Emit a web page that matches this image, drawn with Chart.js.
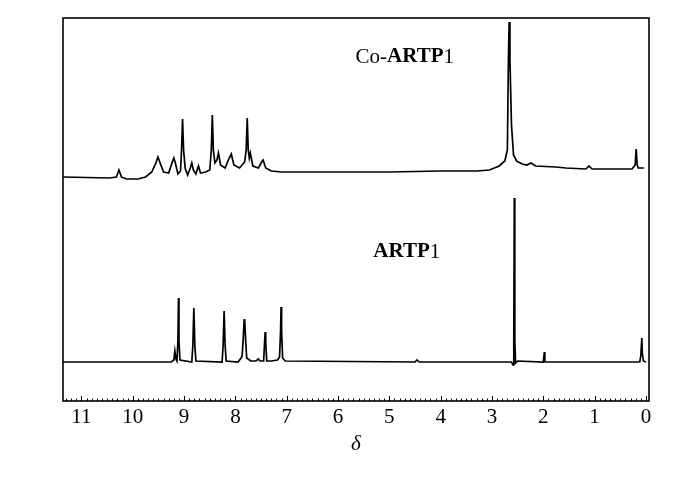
<!DOCTYPE html>
<html>
<head>
<meta charset="utf-8">
<script src="https://cdn.jsdelivr.net/npm/chart.js@4/dist/chart.umd.min.js"></script>
<style>
  html, body { margin: 0; padding: 0; background: #fff; }
  #wrap { width: 700px; height: 481px; }
</style>
</head>
<body>
<div id="wrap"><canvas id="c" width="700" height="481"></canvas></div>
<script>
// Co-ARTP1 spectrum (chemical shift δ, relative intensity)
const coShift = [11.36,10.45,10.32,10.27,10.22,10.12,9.90,9.75,9.63,9.55,9.51,9.46,9.40,9.30,9.23,9.20,9.17,9.12,9.07,9.05,9.03,9.01,8.98,8.93,8.88,8.85,8.82,8.77,8.72,8.68,8.58,8.50,8.47,8.45,8.43,8.40,8.36,8.33,8.29,8.20,8.13,8.08,8.03,7.92,7.82,7.79,7.77,7.75,7.73,7.71,7.66,7.55,7.49,7.46,7.41,7.30,7.10,6.00,5.00,4.00,3.30,3.05,2.86,2.75,2.70,2.68,2.665,2.65,2.62,2.58,2.52,2.41,2.32,2.24,2.15,1.76,1.56,1.17,1.11,1.05,0.27,0.21,0.19,0.17,0.15,0.04];
const coIntensity = [224,223,224,231,224,222,222,224,229,238,244,237,229,228,239,243,238,227,230,251,282,251,233,226,233,238,231,227,235,228,229,231,251,286,251,238,241,248,236,233,242,247,236,233,239,251,283,251,243,248,235,233,239,241,233,230,229,229,229,230,230,231,235,240,251,341,379,341,276,246,240,237,236,238,235,234,233,232,235,232,232,236,252,236,233,233];

// ARTP1 spectrum
const artpShift = [11.36,9.25,9.20,9.18,9.16,9.14,9.12,9.11,9.10,9.08,8.85,8.83,8.81,8.79,8.77,8.26,8.24,8.22,8.20,8.18,7.95,7.89,7.87,7.85,7.83,7.82,7.80,7.78,7.70,7.60,7.55,7.52,7.45,7.43,7.42,7.41,7.39,7.30,7.18,7.14,7.12,7.11,7.10,7.08,7.03,4.50,4.46,4.42,2.62,2.59,2.575,2.565,2.555,2.54,2.50,2.00,1.98,1.97,0.12,0.10,0.08,0.07,0.05,0.00];
const artpIntensity = [39,39,41,50,42,40,60,103,60,41,39,55,93,55,40,39,55,90,55,40,39,43,45,60,81,82,60,43,40,40,42,40,40,60,69,60,40,40,41,44,70,94,70,43,40,39,41,39,39,36,60,203,60,38,40,39,49,39,39,45,63,48,40,39];

// axis ticks and labels
const xTicks = [0,1,2,3,4,5,6,7,8,9,10,11];
const xTitle = 'δ';
const seriesLabels = [
  { plain: 'Co-', bold: 'ARTP', tail: '1', x: 4.70, y: 344 },
  { plain: '', bold: 'ARTP', tail: '1', x: 4.66, y: 149 }
];

const toPts = (xs, ys) => xs.map((x, i) => ({ x: x, y: ys[i] }));
const FONT = "'Liberation Serif', 'Times New Roman', serif";

const framePlugin = {
  id: 'frame',
  afterDraw(chart) {
    const { ctx, chartArea: a, scales } = chart;
    const xs = scales.x;
    ctx.save();
    ctx.strokeStyle = '#000';
    ctx.lineWidth = 1.6;
    ctx.strokeRect(a.left, a.top, a.right - a.left, a.bottom - a.top);
    // inward ticks on the bottom axis
    ctx.lineWidth = 1;
    for (let k = 0; k <= 113; k++) {
      const v = k / 10;
      const px = Math.round(xs.getPixelForValue(v)) + 0.5;
      const len = (k % 10 === 0) ? 5 : 2.5;
      ctx.beginPath();
      ctx.moveTo(px, a.bottom);
      ctx.lineTo(px, a.bottom - len);
      ctx.stroke();
    }
    // series labels
    ctx.fillStyle = '#000';
    ctx.textBaseline = 'middle';
    const ys = scales.y;
    seriesLabels.forEach(l => {
      const fPlain = '21px ' + FONT;
      const fBold = 'bold 21px ' + FONT;
      ctx.font = fPlain; const w1 = ctx.measureText(l.plain).width;
      const w3 = ctx.measureText(l.tail).width;
      ctx.font = fBold; const w2 = ctx.measureText(l.bold).width;
      let x = xs.getPixelForValue(l.x) - (w1 + w2 + w3) / 2;
      const y = ys.getPixelForValue(l.y);
      ctx.textAlign = 'left';
      ctx.font = fPlain; ctx.fillText(l.plain, x, y); x += w1;
      ctx.font = fBold; ctx.fillText(l.bold, x, y); x += w2;
      ctx.font = fPlain; ctx.fillText(l.tail, x, y);
    });
    ctx.restore();
  }
};

new Chart(document.getElementById('c'), {
  type: 'scatter',
  data: {
    datasets: [
      { label: 'Co-ARTP1', data: toPts(coShift, coIntensity), showLine: true, borderColor: '#000', borderWidth: 1.7, pointRadius: 0, tension: 0, fill: false },
      { label: 'ARTP1', data: toPts(artpShift, artpIntensity), showLine: true, borderColor: '#000', borderWidth: 1.7, pointRadius: 0, tension: 0, fill: false }
    ]
  },
  options: {
    responsive: false,
    animation: false,
    layout: { padding: { left: 0, right: 51, top: 18, bottom: 0 } },
    plugins: { legend: { display: false }, tooltip: { enabled: false } },
    scales: {
      x: {
        type: 'linear',
        reverse: true,
        min: -0.06,
        max: 11.36,
        afterBuildTicks: (s) => { s.ticks = xTicks.map(v => ({ value: v })); },
        afterFit: (s) => { s.height = 80; },
        grid: { display: false, drawTicks: false },
        border: { display: false },
        ticks: { color: '#000', font: { family: FONT, size: 21 }, padding: 4, maxRotation: 0, autoSkip: false },
        title: { display: true, text: xTitle, color: '#000', font: { family: FONT, size: 21, style: 'italic' }, padding: { top: 0, bottom: 24 } }
      },
      y: {
        min: 0,
        max: 383,
        afterFit: (s) => { s.width = 63; },
        grid: { display: false, drawTicks: false },
        border: { display: false },
        ticks: { display: false }
      }
    }
  },
  plugins: [framePlugin]
});
</script>
</body>
</html>
